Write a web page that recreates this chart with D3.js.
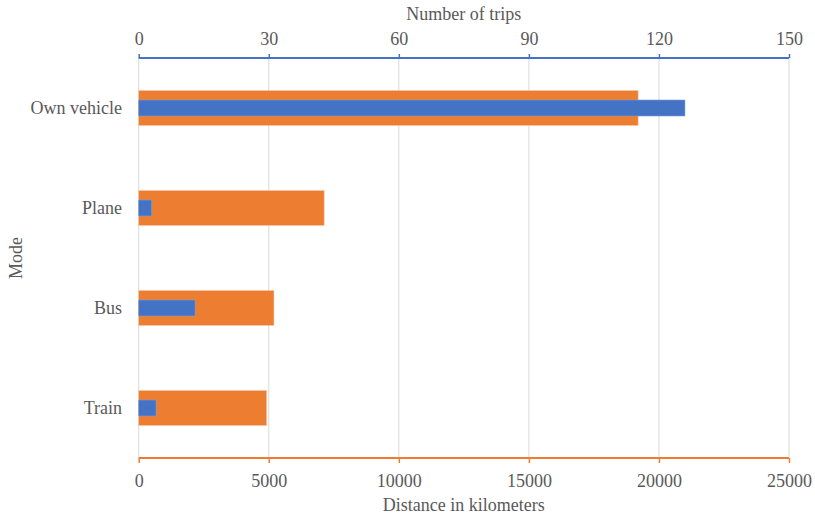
<!DOCTYPE html>
<html>
<head>
<meta charset="utf-8">
<script src="https://cdn.jsdelivr.net/npm/d3@7"></script>
<style>
  html, body { margin: 0; padding: 0; background: #fff; }
  svg { display: block; }
  text { font-family: "Liberation Serif", "Times New Roman", serif; fill: #595959; }
</style>
</head>
<body>
<script>
const categories = ["Own vehicle", "Plane", "Bus", "Train"];
const distanceKm = [19200, 7130, 5200, 4920];
const numTrips = [126, 3, 13, 4];
const distanceTicks = [0, 5000, 10000, 15000, 20000, 25000];
const tripTicks = [0, 30, 60, 90, 120, 150];

const W = 815, H = 517;
const mLeft = 138.7, mRight = 789, mTop = 58, mBottom = 458;
const fontSize = 18;

const svg = d3.select("body").append("svg").attr("width", W).attr("height", H);

const xDist = d3.scaleLinear().domain([0, 25000]).range([mLeft, mRight]);
const xTrips = d3.scaleLinear().domain([0, 150]).range([mLeft, mRight]);
const y = d3.scaleBand().domain(categories).range([mTop, mBottom]).paddingInner(0.65).paddingOuter(0.325);

// gridlines
svg.append("g").selectAll("line").data(distanceTicks).join("line")
  .attr("x1", d => xDist(d)).attr("x2", d => xDist(d))
  .attr("y1", mTop).attr("y2", mBottom)
  .attr("stroke", "#d9d9d9").attr("stroke-width", 1);

const rows = categories.map((c, i) => ({ c, dist: distanceKm[i], trips: numTrips[i] }));

// orange bars (distance)
svg.append("g").selectAll("rect").data(rows).join("rect")
  .attr("x", xDist(0))
  .attr("y", d => y(d.c))
  .attr("width", d => xDist(d.dist) - xDist(0))
  .attr("height", y.bandwidth())
  .attr("fill", "#ED7D31")
  .attr("stroke", "#f6c7a6").attr("stroke-width", 0.6);

// blue bars (trips)
const bh = 16;
svg.append("g").selectAll("rect").data(rows).join("rect")
  .attr("x", xTrips(0))
  .attr("y", d => y(d.c) + y.bandwidth() / 2 - bh / 2)
  .attr("width", d => xTrips(d.trips) - xTrips(0))
  .attr("height", bh)
  .attr("fill", "#4472C4")
  .attr("stroke", "#7f9fd8").attr("stroke-width", 0.6);

// bottom axis (distance)
const bAxis = svg.append("g").attr("transform", `translate(0,${mBottom})`)
  .call(d3.axisBottom(xDist).tickValues(distanceTicks).tickFormat(d3.format("d")).tickSize(5).tickPadding(11));
bAxis.select(".domain").attr("stroke", "#ED7D31").attr("stroke-width", 2).attr("d", `M${mLeft},0H${mRight}`);
bAxis.selectAll(".tick line").attr("stroke", "#ED7D31").attr("stroke-width", 1.5);
bAxis.selectAll("text").style("font-size", fontSize + "px").attr("fill", "#595959");

// top axis (trips)
const tAxis = svg.append("g").attr("transform", `translate(0,${mTop})`)
  .call(d3.axisTop(xTrips).tickValues(tripTicks).tickFormat(d3.format("d")).tickSize(4).tickPadding(9));
tAxis.select(".domain").attr("stroke", "#4472C4").attr("stroke-width", 2).attr("d", `M${mLeft},0H${mRight}`);
tAxis.selectAll(".tick line").attr("stroke", "#4472C4").attr("stroke-width", 1.5);
tAxis.selectAll("text").style("font-size", fontSize + "px").attr("fill", "#595959");

// category labels
svg.append("g").selectAll("text").data(categories).join("text")
  .attr("x", 122)
  .attr("y", d => y(d) + y.bandwidth() / 2)
  .attr("dy", "0.35em")
  .attr("text-anchor", "end")
  .style("font-size", fontSize + "px")
  .text(d => d);

// titles
svg.append("text").attr("x", (mLeft + mRight) / 2).attr("y", 20)
  .attr("text-anchor", "middle").style("font-size", fontSize + "px").text("Number of trips");
svg.append("text").attr("x", (mLeft + mRight) / 2).attr("y", 511)
  .attr("text-anchor", "middle").style("font-size", fontSize + "px").text("Distance in kilometers");
svg.append("text").attr("transform", `translate(22,${(mTop + mBottom) / 2}) rotate(-90)`)
  .attr("text-anchor", "middle").style("font-size", fontSize + "px").text("Mode");
</script>
</body>
</html>
